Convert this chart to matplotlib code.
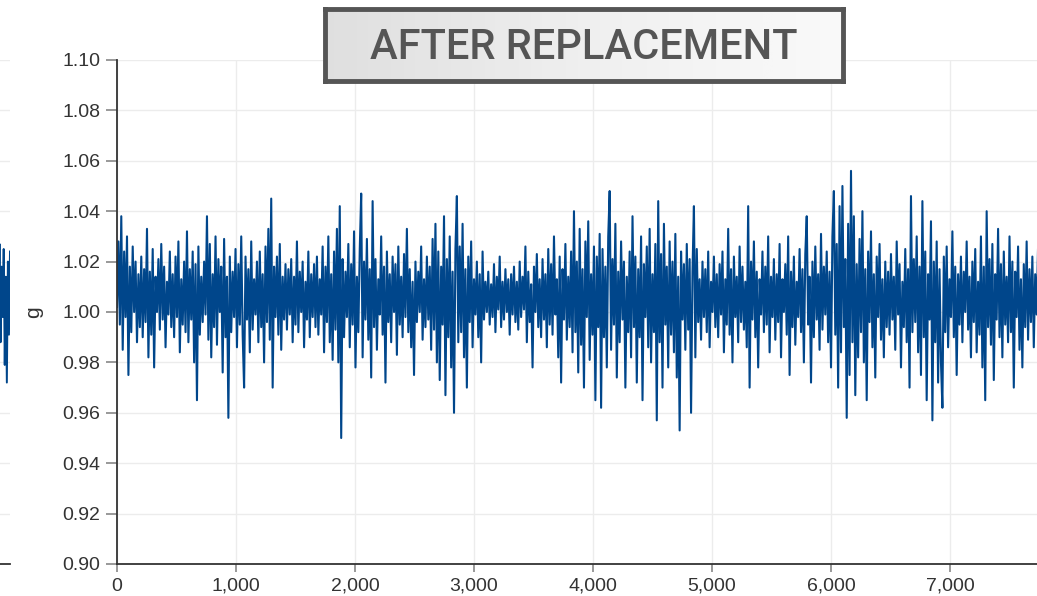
import numpy as np
import matplotlib
import matplotlib.pyplot as plt

matplotlib.use('Agg')
matplotlib.rc('font', family=['Liberation Sans', 'DejaVu Sans'])

# acceleration readings after replacement, in milli-g above/below 1 g,
# one reading every 12 samples (20 readings per row = 240 samples)
g_mg = [
    2, 28, -5, 38, -15, 24, -2, 30, -25, 18, -8, 26, 0, 20, -12, 15, -6, 22, -10, 17,
    -4, 33, -18, 16, -9, 25, -22, 14, 0, 21, -7, 27, -3, 18, -14, 12, -1, 24, -6, 15,
    -10, 22, -2, 28, -16, 13, -5, 20, -8, 32, -12, 17, -3, 24, -20, 19, -35, 26, -9, 14,
    -4, 20, -1, 38, -11, 27, -18, 15, -6, 30, -13, 21, 0, 18, -24, 29, -10, 14, -42, 22,
    -8, 16, -2, 25, -14, 19, -5, 30, -9, -30, 22, -3, 17, -16, 28, -7, 13, -1, 20, -12,
    24, -6, 15, -20, 26, -4, 33, -11, 45, -30, 18, -2, 22, -9, 27, -15, 14, -3, 19, -7,
    17, -1, 21, -12, 14, -5, 28, -8, 16, 0, 20, -14, 12, -3, 24, -10, 15, -2, 19, -6,
    22, -9, 13, -1, 26, -16, 18, -4, 30, -12, 15, -19, 24, -7, 33, -20, 42, -50, 21, -10,
    16, -2, 27, -14, 19, -5, 32, -22, 14, -8, 25, 47, -18, 20, -3, 29, -11, 17, -26, 44,
    -6, 21, -15, 13, -1, 30, -9, 18, -28, 24, -4, 15, -12, 22, 0, 19, -17, 26, -5, 14,
    -10, 23, -2, 33, -8, 17, -14, 12, -25, 20, -4, 16, 0, 26, -11, 13, -6, 22, -3, 18,
    -15, 29, -7, 35, -20, 24, -27, 18, -5, 38, -33, 21, -10, 30, -22, 16, -40, 25, 46, -12,
    26, -8, 35, -18, 17, -30, 22, -4, 28, -14, 13, -1, 20, -10, 15, -20, 24, -3, 12, 0,
    16, -5, 11, -2, 19, -8, 14, 1, 22, -6, 12, -3, 17, 0, 13, -9, 15, -1, 18, -4,
    12, -7, 20, -2, 14, 1, 26, -12, 16, -4, 11, -22, 18, 0, 23, -6, 13, -10, 21, -3,
    15, -14, 25, -5, 19, -9, 30, -1, 13, -18, 22, -28, 17, -3, 27, -11, 14, -6, 24, -16,
    40, -8, 20, -24, 33, -13, 17, -30, 28, -2, 36, -19, 15, -9, 26, -35, 22, -6, 31, -38,
    25, -10, 18, -22, 30, 48, -15, 21, -5, 35, -26, 16, -12, 28, -3, 20, -30, 14, -8, 24,
    -18, 38, -6, 22, -28, 17, -10, 30, -35, 19, -2, 26, -14, 33, -20, 15, -8, 27, -43, 44,
    -12, 23, -30, 35, -5, 18, -22, 28, -9, 20, -16, 31, -26, 14, -47, 24, -3, 19, -15, 27,
    -7, 21, -40, 16, 42, -18, 25, -4, 13, -11, 20, -2, 17, -8, 24, -14, 12, 0, 22, -6,
    15, -10, 19, -1, 24, -16, 13, -5, 33, -9, 17, -20, 22, -2, 14, -12, 26, -4, 18, -7,
    12, -14, 42, -30, 20, -3, 28, -10, 16, -22, 13, -1, 24, -8, 18, -5, 30, -16, 14, -2,
    21, -11, 15, -4, 27, -18, 13, 0, 19, -9, 30, -25, 16, -6, 22, -13, 12, -2, 25, -8,
    17, -20, 23, 38, -5, 14, -28, 20, -10, 26, -3, 15, -15, 31, -7, 18, -1, 24, -12, 16,
    -22, 30, 48, -9, 27, -30, 42, -16, 50, -6, 21, -42, 35, -25, 56, -12, 38, -33, 19, -18,
    29, -8, 40, -20, 17, -35, 24, -4, 32, -14, 15, -26, 22, -2, 27, -11, 13, -18, 20, -6,
    16, -9, 23, -3, 14, -15, 28, -1, 19, -22, 12, -6, 25, -12, 17, -30, 46, -8, 21, -4,
    30, -16, 18, -25, 44, -10, 24, -35, 15, -3, 36, -43, 20, -12, 28, -28, 17, -20, -38, 22,
    -8, 26, -14, 13, -2, 32, -10, 18, -25, 15, -5, 22, -12, 16, 0, 28, -7, 14, -18, 20,
    -4, 25, -16, 12, -9, 30, -22, 18, -35, 40, -6, 21, -13, 27, -27, 15, -3, 33, -10, 19,
    -18, 24, -5, 14, -12, 30, -8, 20, -30, 16, -2, 26, -15, 13, -22, 19, -6, 28, -11, 17,
    -4, 22, -14, 15, -1, 26, -9, 18, -20, 13, -6, 24, -3, 16, -12, 21, 0, 14, -8, 19,
]
sample_step = 12

# tail of the "before" chart that peeks in at the left edge (milli-g)
prev_mg = [4, 22, -6, 27, -12, 18, -2, 25, -21, 14, -28, 20, -9, 24]

y_ticks = [0.90, 0.92, 0.94, 0.96, 0.98, 1.00, 1.02, 1.04, 1.06, 1.08, 1.10]
x_ticks = [0, 1000, 2000, 3000, 4000, 5000, 6000, 7000]
title_text = 'AFTER REPLACEMENT'

LINE_COLOR = '#00468b'
GRID_COLOR = '#ececec'
TEXT_COLOR = '#333333'

W, H = 1037, 596


def px_box(left, top, right, bottom):
    """figure-fraction rectangle from pixel edges"""
    return [left / W, 1 - bottom / H, (right - left) / W, (bottom - top) / H]


fig = plt.figure(figsize=(W / 100, H / 100), dpi=100)

# --- sliver of the previous chart on the far left
ax_prev = fig.add_axes(px_box(-200, 60, 10, 564))
prev_g = 1 + np.array(prev_mg) / 1000.0
ax_prev.plot(np.arange(len(prev_g)) + 187, prev_g, color=LINE_COLOR, lw=1.4)
ax_prev.set_xlim(0, 200)
ax_prev.set_ylim(0.90, 1.10)
ax_prev.set_yticks(y_ticks)
ax_prev.set_xticks([])
ax_prev.grid(axis='y', color=GRID_COLOR, lw=1)
ax_prev.tick_params(left=False, labelleft=False)
for side in ['top', 'right', 'left']:
    ax_prev.spines[side].set_visible(False)
ax_prev.spines['bottom'].set_color('#333333')
ax_prev.spines['bottom'].set_linewidth(1.3)

# --- main chart
ax = fig.add_axes(px_box(117, 60, 1037, 564))
g = 1 + np.array(g_mg) / 1000.0
samples = np.arange(len(g)) * sample_step
ax.plot(samples, g, color=LINE_COLOR, lw=1.5)
ax.set_xlim(0, 7731)
ax.set_ylim(0.90, 1.10)
ax.set_yticks(y_ticks)
ax.set_yticklabels([f'{v:.2f}' for v in y_ticks])
ax.set_xticks(x_ticks)
ax.set_xticklabels([f'{v:,}' for v in x_ticks])
ax.grid(True, color=GRID_COLOR, lw=1)
ax.set_axisbelow(True)
for side in ['top', 'right']:
    ax.spines[side].set_visible(False)
for side in ['left', 'bottom']:
    ax.spines[side].set_color('#333333')
    ax.spines[side].set_linewidth(1.3)
ax.tick_params(axis='y', length=8, width=1.2, color='#888888', pad=4,
               labelsize=14, labelcolor=TEXT_COLOR)
ax.tick_params(axis='x', length=6, width=1.2, color='#888888', pad=4,
               labelsize=14, labelcolor=TEXT_COLOR)
ax.set_ylabel('g', fontsize=15, color=TEXT_COLOR, labelpad=14)

# --- title box with a light grey gradient
tax = fig.add_axes(px_box(325, 9, 843, 81))
grad = np.linspace(0, 1, 256).reshape(1, -1)
tax.imshow(grad, cmap='Greys_r', vmin=-4.5, vmax=1.25, aspect='auto',
           extent=[0, 1, 0, 1])
tax.set_xticks([])
tax.set_yticks([])
for sp in tax.spines.values():
    sp.set_color('#555555')
    sp.set_linewidth(3.5)
tax.text(0.5, 0.47, title_text, ha='center', va='center', fontsize=30,
         fontweight='medium', color='#555555', family=['Roboto', 'DejaVu Sans'],
         transform=tax.transAxes)

fig.savefig('out.png', dpi=100)
